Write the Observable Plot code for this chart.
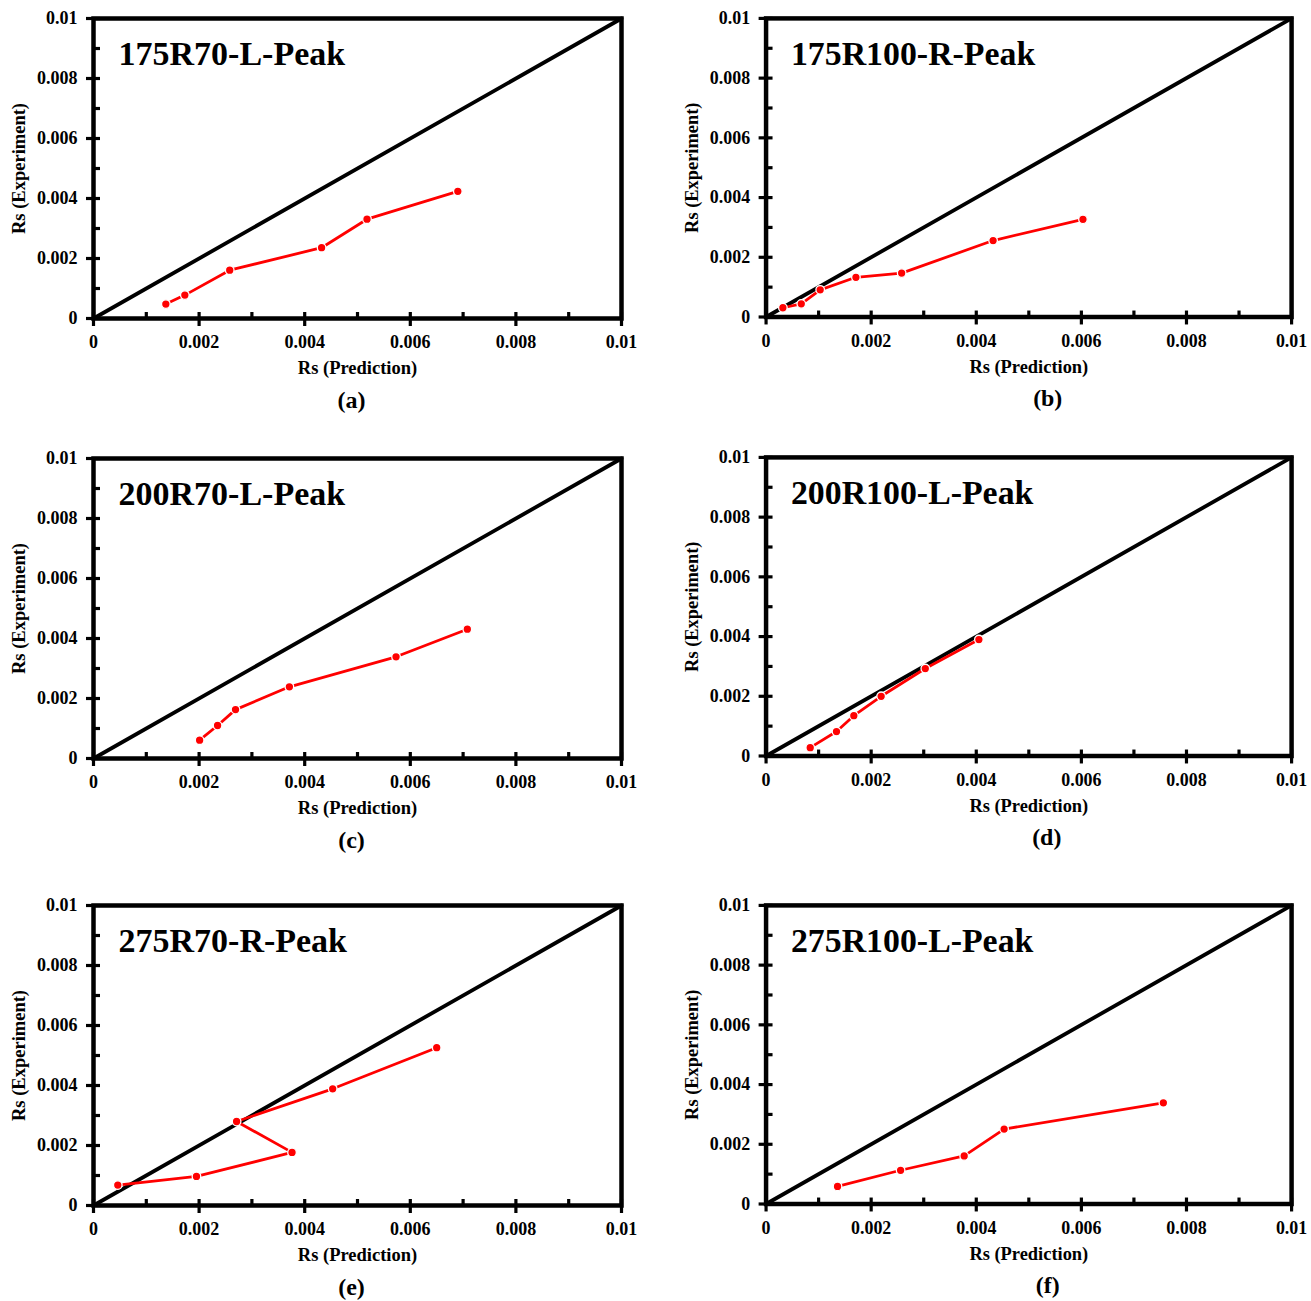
<!DOCTYPE html>
<html>
<head>
<meta charset="utf-8">
<script src="https://cdn.jsdelivr.net/npm/d3@7"></script>
<script src="https://cdn.jsdelivr.net/npm/@observablehq/plot@0.6"></script>
<style>
  html, body { margin: 0; padding: 0; background: #fff; }
  #root { position: relative; width: 1311px; height: 1301px; overflow: hidden; background: #fff; }
  .panel { position: absolute; }
  .panel svg { overflow: visible; }
</style>
</head>
<body>
<div id="root"></div>
<script>
// ---- Data ----
const titles = ["175R70-L-Peak", "175R100-R-Peak", "200R70-L-Peak", "200R100-L-Peak", "275R70-R-Peak", "275R100-L-Peak"];
const captions = ["(a)", "(b)", "(c)", "(d)", "(e)", "(f)"];
const xLabel = "Rs (Prediction)";
const yLabel = "Rs (Experiment)";

const majorTicks = [0, 0.002, 0.004, 0.006, 0.008, 0.01];
const tickLabels = ["0", "0.002", "0.004", "0.006", "0.008", "0.01"];
const minorTicks = [0.001, 0.003, 0.005, 0.007, 0.009];
const diagonal = [0, 0.01];

const predA = [0.00137, 0.00173, 0.00258, 0.00432, 0.00518, 0.00690];
const expA  = [0.00048, 0.00078, 0.00161, 0.00236, 0.00331, 0.00424];

const predB = [0.00032, 0.00067, 0.00103, 0.00171, 0.00258, 0.00432, 0.00603];
const expB  = [0.00031, 0.00044, 0.00091, 0.00133, 0.00147, 0.00256, 0.00327];

const predC = [0.00201, 0.00235, 0.00269, 0.00371, 0.00573, 0.00708];
const expC  = [0.00061, 0.00110, 0.00163, 0.00239, 0.00339, 0.00431];

const predD = [0.00084, 0.00134, 0.00167, 0.00219, 0.00303, 0.00405];
const expD  = [0.00028, 0.00082, 0.00135, 0.00200, 0.00293, 0.00390];

const predE = [0.00046, 0.00195, 0.00376, 0.00271, 0.00453, 0.00650];
const expE  = [0.00068, 0.00097, 0.00177, 0.00280, 0.00389, 0.00526];

const predF = [0.00136, 0.00256, 0.00377, 0.00453, 0.00756];
const expF  = [0.00059, 0.00113, 0.00161, 0.00251, 0.00339];

const preds = [predA, predB, predC, predD, predE, predF];
const exps  = [expA, expB, expC, expD, expE, expF];

// ---- Layout ----
const fontFamily = '"Liberation Serif", "Times New Roman", Times, serif';
const panelPos = [
  {left: 0, top: 0, capDx: -6},
  {left: 673, top: 0, capDx: 19},
  {left: 0, top: 440, capDx: -6},
  {left: 673, top: 439, capDx: 18},
  {left: 0, top: 887, capDx: -6},
  {left: 673, top: 887, capDx: 19}
];
const M = {left: 93, right: 20, top: 18, bottom: 100};
const W = 641, H = 418;
const FW = W - M.left - M.right;   // frame width
const FH = H - M.top - M.bottom;   // frame height

const root = document.getElementById("root");

function fmt(d) {
  const i = majorTicks.indexOf(d);
  return i >= 0 ? tickLabels[i] : "";
}

titles.forEach((title, k) => {
  const pts = preds[k].map((p, i) => ({pred: p, exp: exps[k][i]}));
  const pos = panelPos[k];
  const chart = Plot.plot({
    width: W,
    height: H,
    marginLeft: M.left,
    marginRight: M.right,
    marginTop: M.top,
    marginBottom: M.bottom,
    x: {domain: [0, 0.01]},
    y: {domain: [0, 0.01]},
    style: {fontFamily, fontWeight: "bold", color: "black", background: "white", overflow: "visible"},
    marks: [
      // tick marks: major ticks cross the axis, minor ticks point inward
      Plot.ruleX(majorTicks, {stroke: "black", strokeWidth: 3.2, strokeLinecap: "butt", insetTop: FH - 6, insetBottom: -8}),
      Plot.ruleX(minorTicks, {stroke: "black", strokeWidth: 3.2, strokeLinecap: "butt", insetTop: FH - 6, insetBottom: 0}),
      Plot.ruleY(majorTicks, {stroke: "black", strokeWidth: 3.2, strokeLinecap: "butt", insetRight: FW - 7, insetLeft: -7}),
      Plot.ruleY(minorTicks, {stroke: "black", strokeWidth: 3.2, strokeLinecap: "butt", insetRight: FW - 7, insetLeft: 0}),
      Plot.line(diagonal, {x: d => d, y: d => d, stroke: "black", strokeWidth: 3.8}),
      Plot.line(pts, {x: "pred", y: "exp", stroke: "#ff0000", strokeWidth: 2.8}),
      Plot.dot(pts, {x: "pred", y: "exp", r: 4.3, fill: "#ff0000", stroke: "white", strokeWidth: 1.3}),
      Plot.axisX({ticks: majorTicks, tickSize: 0, tickPadding: 17, tickFormat: fmt, fontSize: 18, label: null}),
      Plot.axisY({ticks: majorTicks, tickSize: 0, tickPadding: 16, tickFormat: fmt, fontSize: 18, label: null}),
      Plot.frame({stroke: "black", strokeWidth: 4.5}),
      Plot.text([title], {frameAnchor: "top-left", dx: 25, dy: 36, textAnchor: "start", lineAnchor: "middle", fontSize: 34, fill: "black"}),
      Plot.text([xLabel], {frameAnchor: "bottom", dy: 50, textAnchor: "middle", lineAnchor: "middle", fontSize: 18.5, fill: "black"}),
      Plot.text([yLabel], {frameAnchor: "left", dx: -74, rotate: -90, textAnchor: "middle", lineAnchor: "middle", fontSize: 18.5, fill: "black"}),
      Plot.text([captions[k]], {frameAnchor: "bottom", dy: 82, dx: pos.capDx, textAnchor: "middle", lineAnchor: "middle", fontSize: 24, fill: "black"})
    ]
  });
  const div = document.createElement("div");
  div.className = "panel";
  div.style.left = pos.left + "px";
  div.style.top = pos.top + "px";
  div.appendChild(chart);
  root.appendChild(div);
});
</script>
</body>
</html>
